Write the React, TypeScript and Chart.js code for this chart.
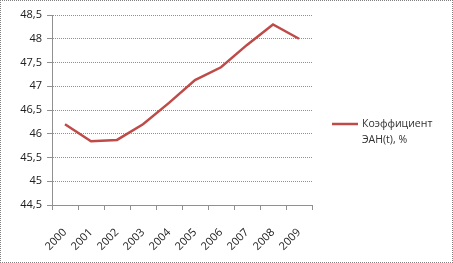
import React, { useEffect, useRef } from "react";
import { Chart, registerables } from "chart.js";

Chart.register(...registerables);

const years = ["2000", "2001", "2002", "2003", "2004", "2005", "2006", "2007", "2008", "2009"];
const eanValues = [46.2, 45.84, 45.87, 46.2, 46.65, 47.13, 47.4, 47.87, 48.3, 48.0];
const seriesLabel = ["Коэффициент", "ЭАН(t), %"];
const lineColor = "#BE4B48";
const FONT = "'Open Sans', 'Liberation Sans', sans-serif";

const legendPlugin = {
  id: "customLegend",
  afterDraw(chart: any) {
    const ctx = chart.ctx;
    ctx.save();
    ctx.strokeStyle = lineColor;
    ctx.lineWidth = 2.5;
    ctx.beginPath();
    ctx.moveTo(332, 124);
    ctx.lineTo(358, 124);
    ctx.stroke();
    ctx.fillStyle = "#303030";
    ctx.font = `10.5px ${FONT}`;
    ctx.textBaseline = "middle";
    ctx.textAlign = "left";
    ctx.fillText(seriesLabel[0], 362, 124);
    ctx.fillText(seriesLabel[1], 362, 140);
    ctx.restore();
  },
};

export default function App() {
  const ref = useRef<HTMLCanvasElement>(null);
  useEffect(() => {
    if (!ref.current) return;
    const chart = new Chart(ref.current, {
      type: "line",
      data: {
        labels: years,
        datasets: [
          {
            label: seriesLabel.join(" "),
            data: eanValues,
            borderColor: lineColor,
            borderWidth: 2.5,
            pointRadius: 0,
            tension: 0,
            fill: false,
          },
        ],
      },
      options: {
        animation: false,
        responsive: false,
        layout: { padding: { top: 15, right: 141, left: 0, bottom: 0 } },
        plugins: { legend: { display: false }, tooltip: { enabled: false } },
        scales: {
          x: {
            offset: true,
            grid: { drawOnChartArea: false, drawTicks: true, tickLength: 5, color: "#909090", offset: true },
            border: { display: true, color: "#909090", dash: [1, 1] },
            ticks: {
              color: "#202020",
              font: { family: FONT, size: 11 },
              maxRotation: 45,
              minRotation: 45,
              autoSkip: false,
              padding: 16,
            },
            afterFit: (scale: any) => {
              scale.height = 58;
            },
          },
          y: {
            min: 44.5,
            max: 48.5,
            ticks: {
              stepSize: 0.5,
              color: "#202020",
              font: { family: FONT, size: 11 },
              padding: 5,
              callback: (v: any) => String(Number(v)).replace(".", ","),
            },
            grid: { color: "#909090", tickLength: 5, drawTicks: true },
            border: { display: true, color: "#909090", dash: [1, 1] },
            afterFit: (scale: any) => {
              scale.width = 52;
            },
          },
        },
      },
      plugins: [legendPlugin],
    });
    return () => chart.destroy();
  }, []);
  return (
    <div
      style={{
        position: "fixed",
        left: 0,
        top: 0,
        width: 453,
        height: 263,
        background: "#fff",
      }}
    >
      <canvas ref={ref} width={453} height={263} style={{ display: "block" }} />
      <div
        style={{
          position: "absolute",
          left: 0,
          top: 0,
          width: 453,
          height: 263,
          boxSizing: "border-box",
          border: "1px dotted #808080",
          pointerEvents: "none",
        }}
      />
    </div>
  );
}
